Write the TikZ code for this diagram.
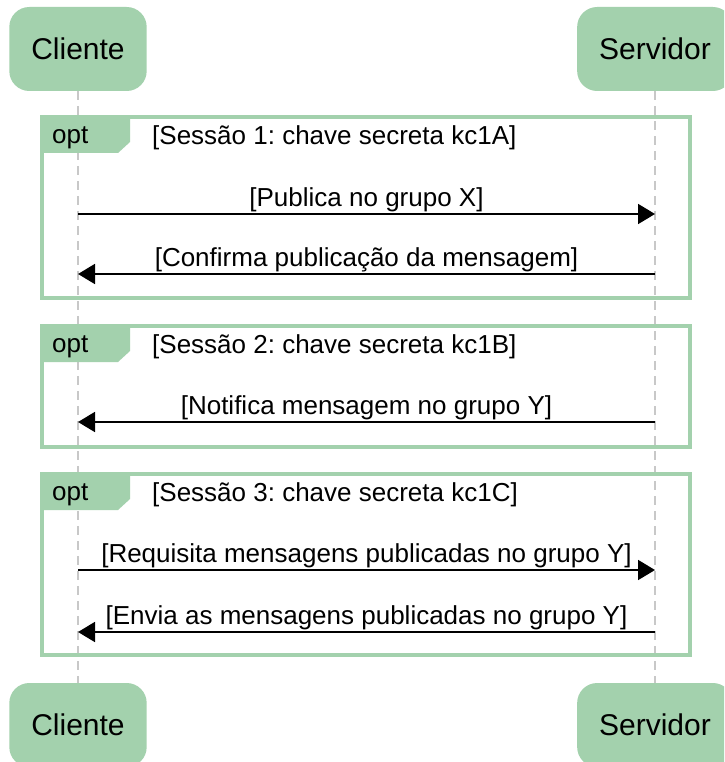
\documentclass[tikz,border=0pt]{standalone}
\usepackage{fontspec}
\setmainfont{Liberation Sans}
\usetikzlibrary{arrows.meta,positioning}
\frenchspacing
\begin{document}
\begin{tikzpicture}[x=1pt, y=-1pt,
    actor/.style={rounded corners=20pt, fill=seq-green, minimum height=84pt,
      inner xsep=22pt, font=\fontsize{30}{35}\selectfont},
    life/.style={color=seq-gray, line width=1.3pt, dash pattern=on 9pt off 6pt},
    msg/.style={line width=1.8pt, -{Triangle[length=17pt,width=20pt]}},
    lbl/.style={font=\fontsize{26}{31}\selectfont, inner sep=0pt},
    frame/.style={draw=seq-green, line width=3.5pt}]
    \definecolor{seq-green}{RGB}{163,209,173}
    \definecolor{seq-gray}{RGB}{200,200,200}
    \def\optbox#1#2#3#4{
      \draw[frame] (42,#2) rectangle (690,#3);
      \fill[seq-green] (42,#2) -- (130,#2) -- (130,{#2+25}) -- (118,{#2+36})
        -- (42,{#2+36}) -- cycle;
      \node[lbl, anchor=west] (#1tag) at (52,{#2+21}) {opt};
      \node[lbl, anchor=west] (#1cond) at (152,{#2+21}) {#4};
    }
    \useasboundingbox (0,0) rectangle (724,762);
    \clip (0,0) rectangle (724,762);
    \fill[white] (0,0) rectangle (724,762);
    \node[actor] (cliTop) at (78,49) {Cliente};
    \node[actor] (srvTop) at (655,49) {Servidor};
    \node[actor] (cliBot) at (78,725) {Cliente};
    \node[actor] (srvBot) at (655,725) {Servidor};
    \draw[life] (cliTop) -- (cliBot);
    \draw[life] (srvTop) -- (srvBot);
    \optbox{s1}{117}{298}{[Sessão 1: chave secreta kc1A]}
    \optbox{s2}{326}{447}{[Sessão 2: chave secreta kc1B]}
    \optbox{s3}{474}{655}{[Sessão 3: chave secreta kc1C]}
    \coordinate (c1) at (78,214);  \coordinate (v1) at (655,214);
    \coordinate (c2) at (78,274);  \coordinate (v2) at (655,274);
    \coordinate (c3) at (78,422);  \coordinate (v3) at (655,422);
    \coordinate (c4) at (78,570);  \coordinate (v4) at (655,570);
    \coordinate (c5) at (78,632);  \coordinate (v5) at (655,632);
    \draw[msg] (c1) -- node[lbl, above=1.5pt] {[Publica no grupo X]} (v1);
    \draw[msg] (v2) -- node[lbl, above=1.5pt] {[Confirma publicação da mensagem]} (c2);
    \draw[msg] (v3) -- node[lbl, above=1.5pt] {[Notifica mensagem no grupo Y]} (c3);
    \draw[msg] (c4) -- node[lbl, above=1.5pt] {[Requisita mensagens publicadas no grupo Y]} (v4);
    \draw[msg] (v5) -- node[lbl, above=1.5pt] {[Envia as mensagens publicadas no grupo Y]} (c5);
  \end{tikzpicture}
\end{document}
